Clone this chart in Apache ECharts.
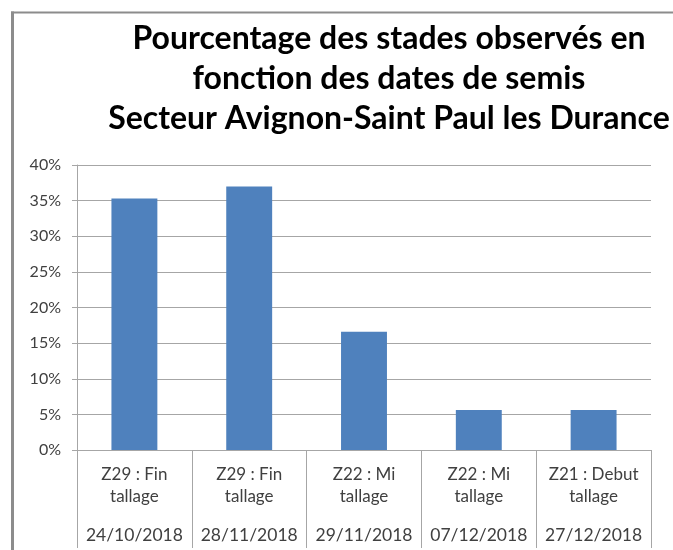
<!DOCTYPE html>
<html><head><meta charset="utf-8">
<script src="https://cdn.jsdelivr.net/npm/echarts@6/dist/echarts.min.js"></script>
<style>html,body{margin:0;padding:0;background:#fff}#c{width:673px;height:550px}</style>
</head><body><div id="c"></div>
<script>
const titleText = "Pourcentage des stades observés en\nfonction des dates de semis\nSecteur Avignon-Saint Paul les Durance";
const stages = ["Z29 : Fin\ntallage", "Z29 : Fin\ntallage", "Z22 : Mi\ntallage", "Z22 : Mi\ntallage", "Z21 : Debut\ntallage"];
const dates = ["24/10/2018", "28/11/2018", "29/11/2018", "07/12/2018", "27/12/2018"];
const values = [35.3, 37.0, 16.6, 5.6, 5.6];
const yTicks = [0, 5, 10, 15, 20, 25, 30, 35, 40];

const FONT = "Lato";
const chart = echarts.init(document.getElementById('c'), null, {renderer: 'canvas'});
chart.setOption({
  animation: false,
  backgroundColor: '#fff',
  graphic: [
    {type: 'line', shape: {x1: 11, y1: 12.5, x2: 673, y2: 12.5},
     style: {stroke: '#8c8c8c', lineWidth: 2}, silent: true, z: -1},
    {type: 'line', shape: {x1: 12.5, y1: 11.5, x2: 12.5, y2: 550},
     style: {stroke: '#8c8c8c', lineWidth: 3}, silent: true, z: -1}
  ],
  title: {
    text: titleText, left: 384, top: 14, textAlign: 'center',
    textStyle: {fontFamily: FONT, fontSize: 32, fontWeight: 'bold', lineHeight: 40, color: '#000'}
  },
  grid: {left: 77, right: 22, top: 165, bottom: 100, containLabel: false},
  xAxis: {
    type: 'category',
    data: stages,
    axisLine: {lineStyle: {color: '#a6a6a6'}},
    axisTick: {show: true, length: 98, interval: 0, lineStyle: {color: '#a6a6a6'}},
    axisLabel: {
      interval: 0, margin: 14,
      formatter: (v, i) => {
        const p = v.split('\n');
        return '{a|' + p[0] + '}\n{a|' + p[1] + '}\n{d|' + dates[i] + '}';
      },
      rich: {
        a: {fontFamily: FONT, fontSize: 17, lineHeight: 22, color: '#404040'},
        d: {fontFamily: FONT, fontSize: 17.5, lineHeight: 54, color: '#404040'}
      }
    }
  },
  yAxis: {
    type: 'value', min: yTicks[0], max: yTicks[yTicks.length - 1], interval: 5,
    axisLine: {show: true, lineStyle: {color: '#a6a6a6'}},
    axisTick: {show: true, length: 5, lineStyle: {color: '#a6a6a6'}},
    splitLine: {lineStyle: {color: '#a6a6a6'}},
    axisLabel: {formatter: v => v + '%', margin: 16, fontFamily: FONT, fontSize: 16, color: '#404040'}
  },
  series: [{
    type: 'bar', data: values, barWidth: '40%',
    itemStyle: {color: '#4f81bd'}
  }]
});
</script></body></html>
